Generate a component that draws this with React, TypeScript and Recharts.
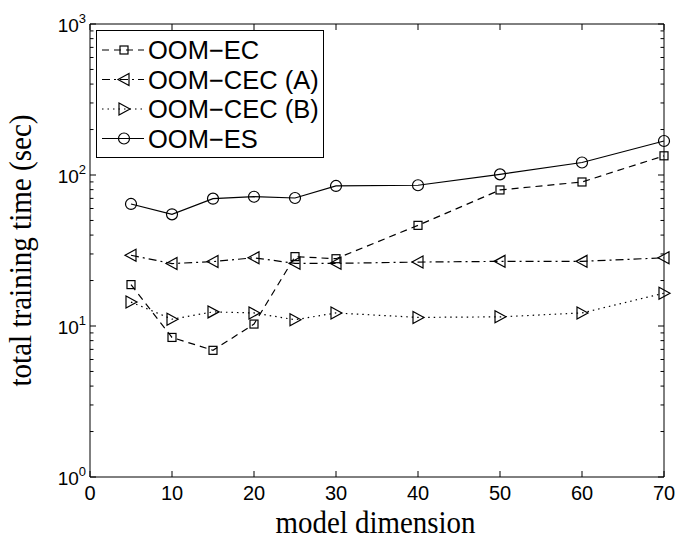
import React from 'react';
import { LineChart, Line, XAxis, YAxis, Legend } from 'recharts';

// ---- data ----
const dims = [5, 10, 15, 20, 25, 30, 40, 50, 60, 70];
const oomEC = [18.8, 8.4, 6.9, 10.3, 28.8, 27.9, 46.4, 79.6, 89.9, 134];
const oomCECA = [29.4, 25.9, 26.7, 28.3, 26.0, 26.0, 26.5, 26.8, 26.8, 28.3];
const oomCECB = [14.4, 11.1, 12.4, 12.2, 11.0, 12.2, 11.4, 11.5, 12.2, 16.5];
const oomES = [64.3, 54.9, 69.7, 71.8, 70.4, 84.6, 85.5, 101, 121, 168];

const xTicks = [0, 10, 20, 30, 40, 50, 60, 70];
const yMajor = [1, 10, 100, 1000];
const yMinor = [2, 3, 4, 5, 6, 7, 8, 9, 20, 30, 40, 50, 60, 70, 80, 90, 200, 300, 400, 500, 600, 700, 800, 900];
const yTicksAll = [...yMajor, ...yMinor].sort((a, b) => a - b);

const seriesNames = ['OOM\u2212EC', 'OOM\u2212CEC (A)', 'OOM\u2212CEC (B)', 'OOM\u2212ES'];
const seriesKeys = ['ec', 'ceca', 'cecb', 'es'];
const seriesDash = ['7 5', '8 4 2 4', '1.5 4', ''];
const seriesMarker = ['square', 'left', 'right', 'circle'];

const data = dims.map((d, i) => ({
  x: d,
  ec: oomEC[i],
  ceca: oomCECA[i],
  cecb: oomCECB[i],
  es: oomES[i],
}));

const SANS = '"Liberation Sans", Arial, Helvetica, sans-serif';
const SERIF = '"Liberation Serif", "Times New Roman", serif';

function Marker({ kind, cx, cy }: { kind: string; cx: number; cy: number }) {
  const common = { fill: 'none', stroke: '#000', strokeWidth: 1.2 };
  if (kind === 'square') return <rect x={cx - 4} y={cy - 4} width={8} height={8} {...common} />;
  if (kind === 'circle') return <circle cx={cx} cy={cy} r={5.5} {...common} />;
  if (kind === 'left')
    return <polygon points={`${cx - 6},${cy} ${cx + 5},${cy - 6} ${cx + 5},${cy + 6}`} {...common} />;
  return <polygon points={`${cx + 6},${cy} ${cx - 5},${cy - 6} ${cx - 5},${cy + 6}`} {...common} />;
}

const makeDot = (kind: string) => (props: any) => {
  const { cx, cy, index } = props;
  if (cx == null || cy == null) return <g key={index} />;
  return (
    <g key={`${kind}-${index}`}>
      <Marker kind={kind} cx={cx} cy={cy} />
    </g>
  );
};

const LeftYTick = (props: any) => {
  const { x, y, payload } = props;
  const v = payload.value;
  const major = yMajor.includes(v);
  const exp = Math.round(Math.log10(v));
  return (
    <g>
      <line x1={x} y1={y} x2={x + (major ? 6 : 3.5)} y2={y} stroke="#000" strokeWidth={1} />
      {major && (
        <text x={x - 4} y={y + 8} textAnchor="end" fontFamily={SANS} fontSize={19} fill="#000">
          <tspan>10</tspan>
          <tspan dy={-9} fontSize={13}>{exp}</tspan>
        </text>
      )}
    </g>
  );
};

const RightYTick = (props: any) => {
  const { x, y, payload } = props;
  const major = yMajor.includes(payload.value);
  return <line x1={x} y1={y} x2={x - (major ? 6 : 3.5)} y2={y} stroke="#000" strokeWidth={1} />;
};

const BottomXTick = (props: any) => {
  const { x, y, payload } = props;
  return (
    <g>
      <line x1={x} y1={y} x2={x} y2={y - 6} stroke="#000" strokeWidth={1} />
      <text x={x} y={y + 23} textAnchor="middle" fontFamily={SANS} fontSize={20} fill="#000">
        {payload.value}
      </text>
    </g>
  );
};

const TopXTick = (props: any) => {
  const { x, y } = props;
  return <line x1={x} y1={y} x2={x} y2={y + 6} stroke="#000" strokeWidth={1} />;
};

const LegendBox = (props: any) => {
  const payload = props.payload || [];
  const rowH = 29.5;
  return (
    <svg width={229} height={129} style={{ display: 'block' }}>
      <rect x={0.5} y={0.5} width={227} height={127} fill="#fff" stroke="#000" strokeWidth={1} />
      {seriesKeys.map((k, i) => {
        const entry = payload.find((p: any) => p.dataKey === k);
        const cy = 20 + i * rowH;
        return (
          <g key={k}>
            <line x1={6} y1={cy} x2={48} y2={cy} stroke="#000" strokeWidth={1.2} strokeDasharray={seriesDash[i] || undefined} />
            <Marker kind={seriesMarker[i]} cx={28} cy={cy} />
            <text x={52} y={cy + 9} fontFamily={SANS} fontSize={25.5} fill="#000">
              {entry ? entry.value : seriesNames[i]}
            </text>
          </g>
        );
      })}
    </svg>
  );
};

export default function App() {
  return (
    <div style={{ position: 'absolute', left: 0, top: 0, width: 675, height: 539, background: '#fff' }}>
      <LineChart width={675} height={539} data={data} margin={{ top: 23, right: 10, bottom: 22, left: 30 }}>
        <XAxis
          xAxisId="b"
          type="number"
          dataKey="x"
          domain={[0, 70]}
          ticks={xTicks}
          interval={0}
          height={40}
          tickSize={0}
          tickMargin={0}
          tickLine={false}
          axisLine={{ stroke: '#000', strokeWidth: 1 }}
          tick={<BottomXTick />}
          label={{
            content: (p: any) => {
              const vb = p.viewBox;
              return (
                <text
                  x={vb.x + vb.width / 2 - 1.5}
                  y={vb.y + 56}
                  textAnchor="middle"
                  fontFamily={SERIF}
                  fontSize={31}
                  textLength={200}
                  lengthAdjust="spacingAndGlyphs"
                  fill="#000"
                >
                  model dimension
                </text>
              );
            },
          }}
        />
        <XAxis
          xAxisId="t"
          orientation="top"
          type="number"
          dataKey="x"
          domain={[0, 70]}
          ticks={xTicks}
          interval={0}
          height={1}
          tickSize={0}
          tickMargin={0}
          tickLine={false}
          axisLine={{ stroke: '#000', strokeWidth: 1 }}
          tick={<TopXTick />}
        />
        <YAxis
          yAxisId="l"
          scale="log"
          domain={[1, 1000]}
          allowDataOverflow
          ticks={yTicksAll}
          interval={0}
          width={60}
          tickSize={0}
          tickMargin={0}
          tickLine={false}
          axisLine={{ stroke: '#000', strokeWidth: 1 }}
          tick={<LeftYTick />}
          label={{
            content: (p: any) => {
              const vb = p.viewBox;
              const cx = vb.x + 1;
              const cy = vb.y + vb.height / 2;
              return (
                <text
                  x={cx}
                  y={cy}
                  transform={`rotate(-90, ${cx}, ${cy})`}
                  textAnchor="middle"
                  fontFamily={SERIF}
                  fontSize={31}
                  textLength={272}
                  lengthAdjust="spacingAndGlyphs"
                  fill="#000"
                >
                  total training time (sec)
                </text>
              );
            },
          }}
        />
        <YAxis
          yAxisId="r"
          orientation="right"
          scale="log"
          domain={[1, 1000]}
          allowDataOverflow
          ticks={yTicksAll}
          interval={0}
          width={1}
          tickSize={0}
          tickMargin={0}
          tickLine={false}
          axisLine={{ stroke: '#000', strokeWidth: 1 }}
          tick={<RightYTick />}
        />
        <Legend
          layout="horizontal"
          verticalAlign="middle"
          align="center"
          content={<LegendBox />}
          wrapperStyle={{ position: 'absolute', left: 96, top: 30, width: 229, height: 129 }}
        />
        {seriesKeys.map((k, i) => (
          <Line
            key={k}
            xAxisId="b"
            yAxisId="l"
            type="linear"
            dataKey={k}
            name={seriesNames[i]}
            stroke="#000"
            strokeWidth={1.2}
            strokeDasharray={seriesDash[i] || undefined}
            dot={makeDot(seriesMarker[i])}
            activeDot={false}
            isAnimationActive={false}
            legendType="line"
          />
        ))}
      </LineChart>
    </div>
  );
}
